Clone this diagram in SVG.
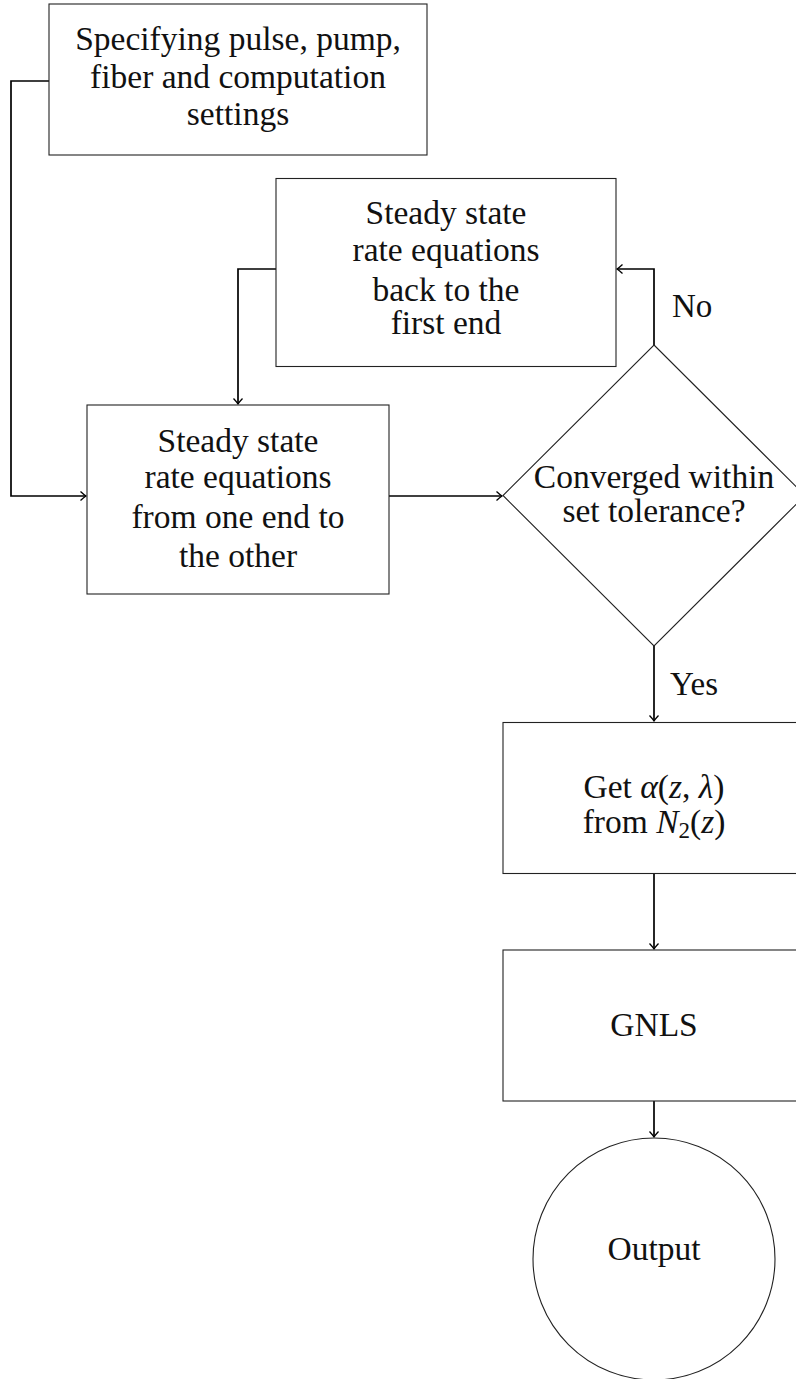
<svg xmlns="http://www.w3.org/2000/svg" width="796" height="1379" viewBox="0 0 796 1379">
<defs>
<marker id="arr" markerUnits="userSpaceOnUse" markerWidth="12" markerHeight="12" viewBox="-8 -6 10 12" refX="0" refY="0" orient="auto">
<path d="M -5.5 -4.5 Q -2 -1.2 0 0 Q -2 1.2 -5.5 4.5" fill="none" stroke="#000" stroke-width="1.3"/>
</marker>
<style>
.box{fill:#fff;stroke:#222;stroke-width:1.1}
.t{font-family:"Liberation Serif","Times New Roman",serif;font-size:33.5px;fill:#111;text-anchor:middle}
.lbl{font-family:"Liberation Serif","Times New Roman",serif;font-size:33px;fill:#111}
.c{fill:none;stroke:#000;stroke-width:1.7;marker-end:url(#arr)}
.i{font-style:italic}
</style>
</defs>
<rect width="796" height="1379" fill="#fff"/>
<g id="connectors">
<polyline class="c" points="49,81 11,81 11,496 86,496"/>
<line class="c" x1="389" y1="496" x2="502" y2="496"/>
<polyline class="c" points="654,345 654,269 617,269"/>
<polyline class="c" points="276,269 238,269 238,404"/>
<line class="c" x1="654" y1="646" x2="654" y2="721"/>
<line class="c" x1="654" y1="873" x2="654" y2="949"/>
<line class="c" x1="654" y1="1101" x2="654" y2="1137"/>
<text class="lbl" x="672" y="317">No</text>
<text class="lbl" x="670" y="695">Yes</text>
</g>
<g id="settings">
<rect class="box" x="49" y="4" width="378" height="151"/>
<text class="t" x="238" y="50">Specifying pulse, pump,</text>
<text class="t" x="238" y="88">fiber and computation</text>
<text class="t" x="238" y="125">settings</text>
</g>
<g id="backward">
<rect class="box" x="276" y="178.5" width="340" height="188"/>
<text class="t" x="446" y="224">Steady state</text>
<text class="t" x="446" y="261">rate equations</text>
<text class="t" x="446" y="301">back to the</text>
<text class="t" x="446" y="334">first end</text>
</g>
<g id="forward">
<rect class="box" x="87" y="405" width="302" height="189"/>
<text class="t" x="238" y="452">Steady state</text>
<text class="t" x="238" y="488">rate equations</text>
<text class="t" x="238" y="528">from one end to</text>
<text class="t" x="238" y="567">the other</text>
</g>
<g id="converged">
<polygon points="654,345 805,495.5 654,646 503,495.5" fill="#fff" stroke="#222" stroke-width="1.1"/>
<text class="t" x="654" y="488">Converged within</text>
<text class="t" x="654" y="522">set tolerance?</text>
</g>
<g id="alpha">
<rect class="box" x="503" y="722.5" width="302" height="151"/>
<text class="t" x="654" y="798">Get <tspan class="i">α</tspan>(<tspan class="i">z</tspan>, <tspan class="i">λ</tspan>)</text>
<text class="t" x="654" y="833">from <tspan class="i">N</tspan><tspan font-size="23" dy="5">2</tspan><tspan dy="-5">(</tspan><tspan class="i">z</tspan>)</text>
</g>
<g id="gnls">
<rect class="box" x="503" y="950" width="302" height="151"/>
<text class="t" x="654" y="1036">GNLS</text>
</g>
<g id="output">
<circle cx="654" cy="1259" r="121" fill="#fff" stroke="#222" stroke-width="1.1"/>
<text class="t" x="654" y="1260">Output</text>
</g>
</svg>
